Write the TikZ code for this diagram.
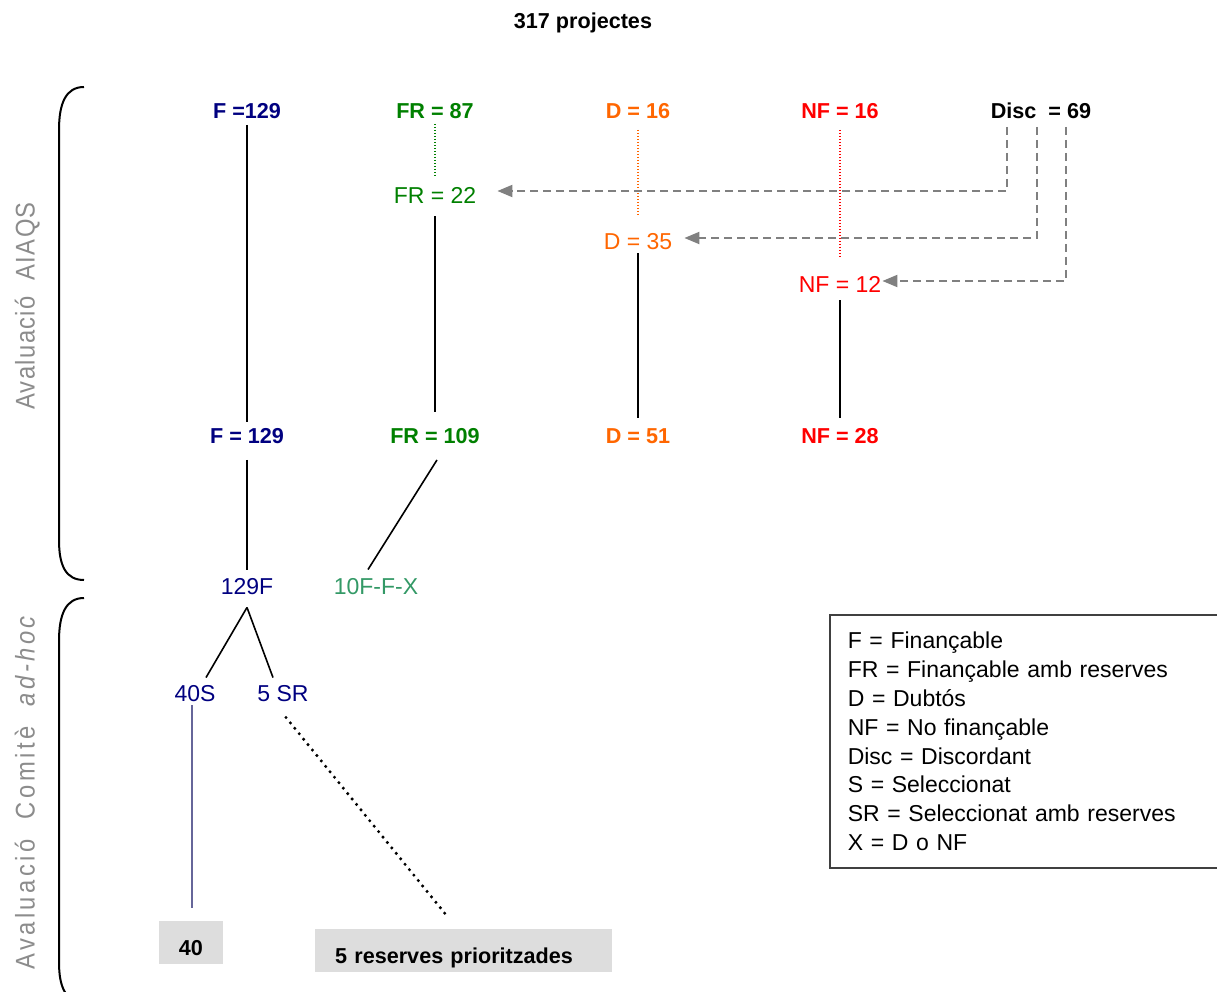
\documentclass[tikz,border=0pt]{standalone}
\usepackage{graphicx}
\usepackage{fontspec}
\setmainfont{Liberation Sans}
\newfontfamily\spacedA[LetterSpace=5.8]{Liberation Sans}
\newfontfamily\spacedB[LetterSpace=14.7]{Liberation Sans}
\usetikzlibrary{arrows.meta,calc}
\definecolor{navyc}{HTML}{000080}
\definecolor{greenc}{HTML}{008000}
\definecolor{orangec}{HTML}{FF6600}
\definecolor{redc}{HTML}{FF0000}
\definecolor{tealc}{HTML}{339966}
\definecolor{dashc}{HTML}{808080}
\definecolor{sidec}{HTML}{8C8C8C}
\definecolor{boxc}{HTML}{DDDDDD}
\definecolor{slatec}{HTML}{666699}
\definecolor{legc}{HTML}{404040}
\begin{document}
\begin{tikzpicture}[x=1pt,y=-1pt,
  bl/.style={inner sep=0pt, text height=15.5pt, text depth=0pt, font=\fontsize{21.6}{26}\selectfont\bfseries},
  rg/.style={inner sep=0pt, text height=16.5pt, text depth=0pt, font=\fontsize{23}{28}\selectfont},
  conn/.style={line width=1.6pt, black},
  dotline/.style={line width=1.2pt, dash pattern=on 1.2pt off 1.8pt},
  discarrow/.style={dashc, line width=2pt, dash pattern=on 8pt off 5pt, -{Triangle[length=15pt,width=12pt]}},
  boxst/.style={fill=boxc, inner ysep=0pt, text height=26pt, text depth=0pt, font=\fontsize{21.6}{26}\selectfont\bfseries},
  sidest/.style={text=sidec, inner sep=0pt, text height=19.3pt, text depth=0pt, font=\fontsize{27}{30}\selectfont},
  brk/.style={line width=2pt, black},
  legst/.style={draw=legc, line width=1.5pt, inner xsep=18pt, inner ysep=17pt, text width=420pt, align=left, font=\fontsize{23}{28.9}\selectfont}
]
\clip (0,0) rectangle (1217,992);
\fill[white] (0,0) rectangle (1217,992);

% title
\node[bl] (title) at (583,21) {317 projectes};

% row 1
\node[bl,text=navyc] (F1) at (247,111) {F =129};
\node[bl,text=greenc] (FR1) at (435,111) {FR = 87};
\node[bl,text=orangec] (D1) at (638,111) {D = 16};
\node[bl,text=redc] (NF1) at (840,111) {NF = 16};
\node[bl] (Disc) at (1041,111) {Disc\ \ = 69};

% row 2
\node[rg,text=greenc] (FR2) at (435,195) {FR = 22};
\node[rg,text=orangec] (D2) at (638,241) {D = 35};
\node[rg,text=redc] (NF2) at (840,284) {NF = 12};

% row 3
\node[bl,text=navyc] (F3) at (247,436) {F = 129};
\node[bl,text=greenc] (FR3) at (435,436) {FR = 109};
\node[bl,text=orangec] (D3) at (638,436) {D = 51};
\node[bl,text=redc] (NF3) at (840,436) {NF = 28};

% committee
\node[rg,text=navyc] (C129) at (247,586) {129F};
\node[rg,text=tealc] (C10) at (376,586) {10F-F-X};
\node[rg,text=navyc] (S40) at (195,693) {40S};
\node[rg,text=navyc] (SR5) at (283,693) {5 SR};

\node[boxst, minimum width=64pt, minimum height=43pt] (B40) at (191,942.5) {40};
\node[boxst, anchor=north west, minimum height=43pt, text width=257pt, inner xsep=20pt, align=left] (B5) at (315,929) {5 reserves prioritzades};

% legend
\node[legst, anchor=north west] (Leg) at (829,614) {F = Finançable\\
FR = Finançable amb reserves\\
D = Dubtós\\
NF = No finançable\\
Disc = Discordant\\
S = Seleccionat\\
SR = Seleccionat amb reserves\\
X = D o NF};

% side labels
\node[sidest, rotate=90] (L1) at (25,306) {\scalebox{0.88}[1]{\spacedA Avaluació\ \ AIAQS}};
\node[sidest, rotate=90] (L2) at (25,793) {\scalebox{0.88}[1]{\spacedB Avaluació\ \ Comitè\ \ \itshape ad-hoc}};

% brackets
\draw[brk] (84,87) .. controls (66,87) and (59,103) .. (59,130) -- (59,540) .. controls (59,566) and (66,580) .. (84,580);
\draw[brk] (84,598) .. controls (66,598) and (59,614) .. (59,641) -- (59,962) .. controls (59,988) and (66,1002) .. (84,1002);

% AIAQS connectors
\draw[conn, shorten <=6pt, shorten >=6pt] (F1) -- (F3);
\draw[greenc, dotline, shorten <=5pt, shorten >=11pt] (FR1) -- (FR2);
\draw[conn, shorten <=13pt, shorten >=16pt] (FR2) -- (FR3);
\draw[orangec, dotline, shorten <=11pt, shorten >=17pt] (D1) -- (D2);
\draw[conn, shorten <=4pt, shorten >=10pt] (D2) -- (D3);
\draw[redc, dotline, shorten <=11pt, shorten >=18pt] (NF1) -- (NF2);
\draw[conn, shorten <=8pt, shorten >=10pt] (NF2) -- (NF3);

% Disc arrows
\draw[discarrow] ([xshift=-34pt,yshift=-8pt]Disc.south) |- ([xshift=21pt,yshift=4pt]FR2.east);
\draw[discarrow] ([xshift=-4pt,yshift=-8pt]Disc.south) |- ([xshift=12pt,yshift=3pt]D2.east);
\draw[discarrow] ([xshift=25pt,yshift=-8pt]Disc.south) |- ([xshift=1pt,yshift=3pt]NF2.east);

% to committee
\draw[conn, shorten <=16pt, shorten >=8pt] (F3) -- (C129);
\draw[conn] ([shift={(2,16)}]FR3.south) -- ([shift={(-8,-8)}]C10.north);
\draw[conn] ([shift={(0,13)}]C129.south) -- ([shift={(11,-7)}]S40.north);
\draw[conn] ([shift={(0,13)}]C129.south) -- ([shift={(-10,-7)}]SR5.north);
\draw[slatec, line width=1.3pt] ([shift={(-3,4)}]S40.south) -- ([shift={(1,-13)}]B40.north);
\draw[black, line width=3.4pt, line cap=round, dash pattern=on 0pt off 7pt] ([shift={(3,16)}]SR5.south) -- ([shift={(-17.5,-14)}]B5.north);
\end{tikzpicture}
\end{document}
